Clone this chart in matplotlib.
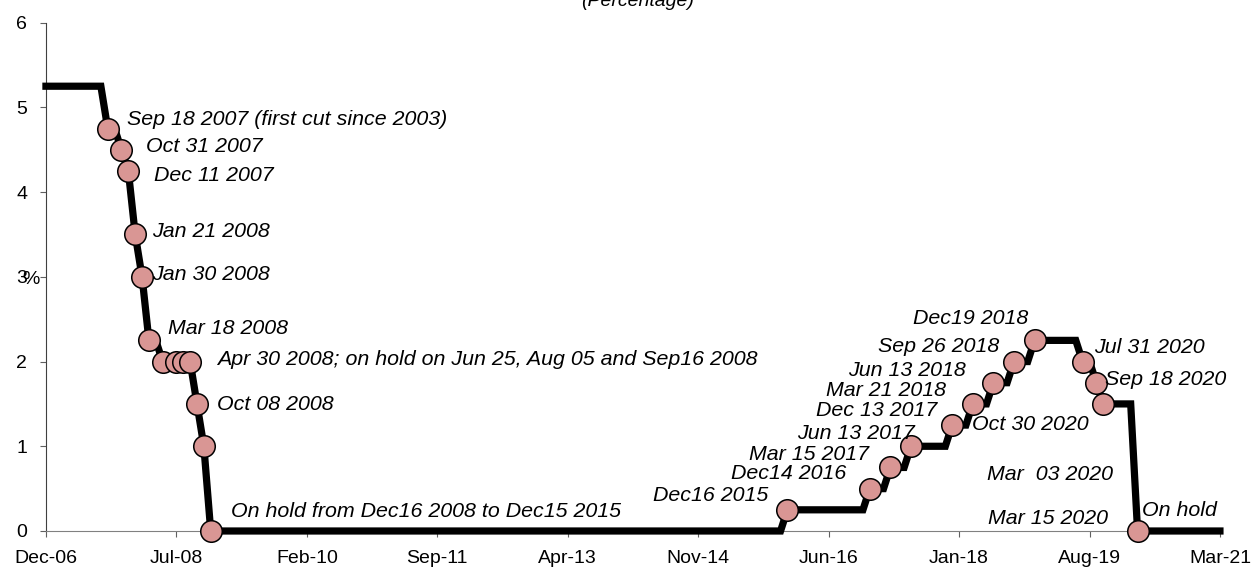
import matplotlib
matplotlib.use("Agg")
import matplotlib.pyplot as plt
import pandas as pd

plt.rcParams['font.family'] = ['Liberation Sans', 'DejaVu Sans']

# policy rate path (monthly points where the line bends)
line_months = ["2006-12", "2007-08", "2007-09", "2007-10", "2007-11", "2007-12",
               "2008-01", "2008-02", "2008-03", "2008-04", "2008-05", "2008-09",
               "2008-10", "2008-11", "2008-12", "2015-11", "2015-12", "2016-11",
               "2016-12", "2017-02", "2017-03", "2017-05", "2017-06", "2017-11",
               "2017-12", "2018-02", "2018-03", "2018-05", "2018-06", "2018-08",
               "2018-09", "2018-11", "2018-12", "2019-06", "2019-07", "2019-08",
               "2019-09", "2019-10", "2020-02", "2020-03", "2021-03"]
line_rates = [5.25, 5.25, 4.75, 4.75, 4.50, 4.25,
              3.50, 3.00, 2.25, 2.25, 2.00, 2.00,
              1.50, 1.00, 0.00, 0.00, 0.25, 0.25,
              0.50, 0.50, 0.75, 0.75, 1.00, 1.00,
              1.25, 1.25, 1.50, 1.50, 1.75, 1.75,
              2.00, 2.00, 2.25, 2.25, 2.00, 2.00,
              1.75, 1.50, 1.50, 0.00, 0.00]

# meeting markers
marker_months = ["2007-09", "2007-11", "2007-12", "2008-01", "2008-02", "2008-03",
                 "2008-05", "2008-07", "2008-08", "2008-09", "2008-10", "2008-11",
                 "2008-12", "2015-12", "2016-12", "2017-03", "2017-06", "2017-12",
                 "2018-03", "2018-06", "2018-09", "2018-12", "2019-07", "2019-09",
                 "2019-10", "2020-03"]
marker_rates = [4.75, 4.50, 4.25, 3.50, 3.00, 2.25,
                2.00, 2.00, 2.00, 2.00, 1.50, 1.00,
                0.00, 0.25, 0.50, 0.75, 1.00, 1.25,
                1.50, 1.75, 2.00, 2.25, 2.00, 1.75,
                1.50, 0.00]

label_texts = ["Sep 18 2007 (first cut since 2003)", "Oct 31 2007", "Dec 11 2007",
               "Jan 21 2008", "Jan 30 2008", "Mar 18 2008",
               "Apr 30 2008; on hold on Jun 25, Aug 05 and Sep16 2008",
               "Oct 08 2008", "On hold from Dec16 2008 to Dec15 2015",
               "Dec16 2015", "Dec14 2016", "Mar 15 2017", "Jun 13 2017",
               "Dec 13 2017", "Mar 21 2018", "Jun 13 2018", "Sep 26 2018",
               "Dec19 2018", "Oct 30 2020", "Jul 31 2020", "Sep 18 2020",
               "On hold", "Mar 15 2020", "Mar  03 2020"]
label_months = ["2007-09", "2007-11", "2007-12", "2008-01", "2008-02", "2008-03",
                "2008-09", "2008-10", "2008-12", "2015-12", "2016-12", "2017-03",
                "2017-06", "2017-12", "2018-03", "2018-06", "2018-09", "2018-12",
                "2019-10", "2019-07", "2019-09", "2020-03", "2020-03", "2020-03"]
label_rates = [4.75, 4.50, 4.25, 3.50, 3.00, 2.25, 2.00, 1.50, 0.00,
               0.25, 0.50, 0.75, 1.00, 1.25, 1.50, 1.75, 2.00, 2.25,
               1.50, 2.00, 1.75, 0.00, 0.00, 0.00]

tick_labels = ["Dec-06", "Jul-08", "Feb-10", "Sep-11", "Apr-13",
               "Nov-14", "Jun-16", "Jan-18", "Aug-19", "Mar-21"]

start = pd.Period("2006-12", "M")


def midx(s):
    # month axis like excel (every month the same width)
    return (pd.Period(s, "M") - start).n


# label offsets in pixels (dx, dy, alignment)
label_pos = [(19, 9, "left"), (25, 3, "left"), (26, -5, "left"), (17, 3, "left"),
             (10, 2, "left"), (19, 12, "left"), (27, 2, "left"), (20, -1, "left"),
             (20, 19, "left"),
             (-19, 14, "right"), (-24, 15, "right"), (-21, 13, "right"),
             (4, 13, "right"), (-15, 15, "right"), (-27, 13, "right"),
             (-28, 12, "right"), (-15, 15, "right"), (-6, 22, "right"),
             (-15, -21, "right"), (11, 14, "left"), (9, 3, "left"),
             (4, 20, "left"), (-30, 12, "right"), (-25, 56, "right")]

fig = plt.figure(figsize=(12.52, 5.67), dpi=100)
ax = fig.add_axes([0.0367, 0.0635, 0.9377, 0.8965])

ax.plot([midx(m) for m in line_months], line_rates, color="black", lw=5.2,
        clip_on=False, zorder=3, solid_joinstyle="miter")
ax.plot([midx(m) for m in marker_months], marker_rates, ls="none", marker="o",
        ms=15.5, mfc="#D99694", mec="black", mew=1.1, clip_on=False, zorder=4)

for txt, m, r, (dx, dy, ha) in zip(label_texts, label_months, label_rates, label_pos):
    ax.annotate(txt, xy=(midx(m), r), xytext=(dx, dy), textcoords="offset pixels",
                ha=ha, va="center", fontsize=15.4, style="italic",
                annotation_clip=False, zorder=5)

ticks = [midx("2006-12") + 19 * i for i in range(len(tick_labels))]
ax.set_xlim(ticks[0], ticks[-1])
ax.set_xticks(ticks)
ax.set_xticklabels(tick_labels)
ax.set_ylim(0, 6)
ax.set_yticks(range(0, 7))

for s in ["top", "right"]:
    ax.spines[s].set_visible(False)
ax.spines["left"].set_color("#404040")
ax.spines["bottom"].set_color("#808080")
ax.tick_params(axis="both", colors="#606060", labelcolor="black", labelsize=14,
               length=4.5, width=0.8, pad=9)

fig.text(0.0175, 1 - 280 / 567, "%", fontsize=14, va="center", ha="left")
fig.text(0.509, 1 - 6 / 567, "(Percentage)", fontsize=14, style="italic",
         ha="center", va="baseline")

fig.savefig("out.png", dpi=100)
